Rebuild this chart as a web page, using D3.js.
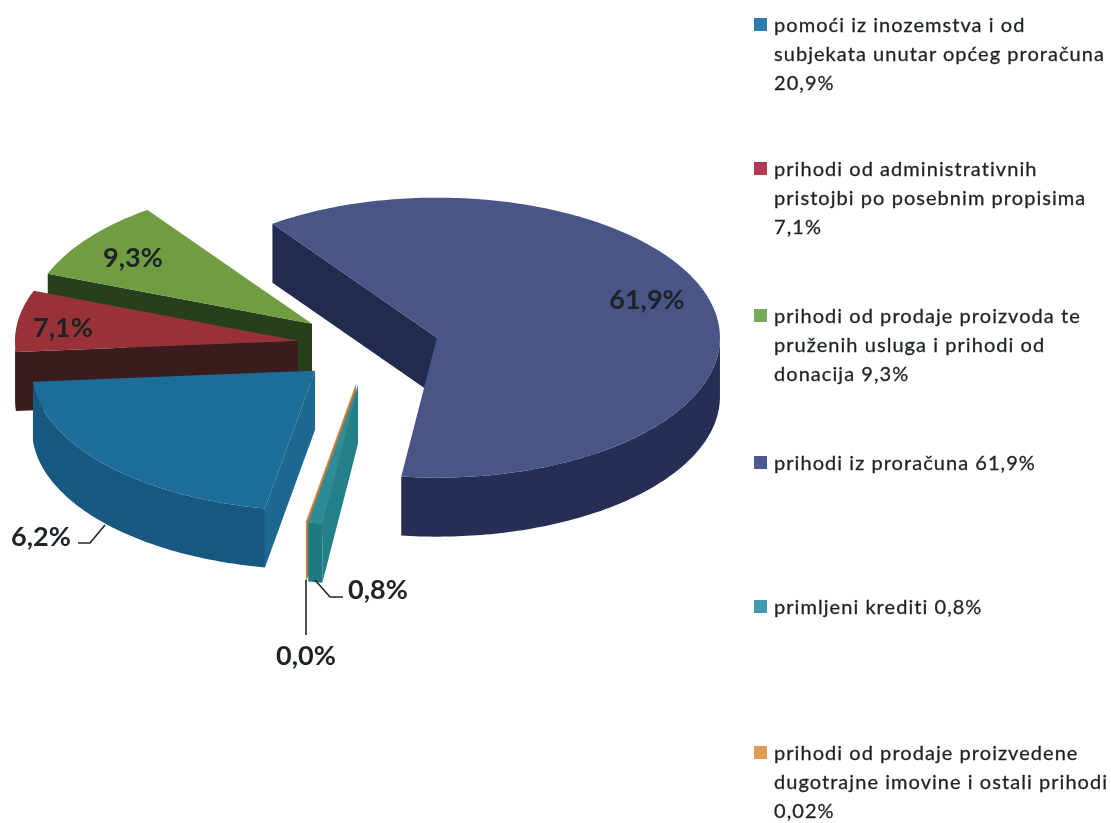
<!DOCTYPE html>
<html>
<head>
  <meta charset="utf-8">
  <script src="https://cdnjs.cloudflare.com/ajax/libs/d3/7.8.5/d3.min.js"></script>
  <style>
    html, body { margin: 0; padding: 0; background: #fff; }
    svg { display: block; }
    text { font-family: Lato, "Open Sans", sans-serif; fill: #1d2326; }
    .legend text { font-size: 20px; letter-spacing: 1.05px; stroke: #1d2326; stroke-width: 0.3px; }
    .label { font-size: 27px; font-weight: 700; }
  </style>
</head>
<body>
<svg id="chart" width="1111" height="823"></svg>
<script>
  // slices in the order of the legend, clockwise
  var values = [20.9, 7.1, 9.3, 61.9, 0.8, 0.02];
  var sliceLabels = ["6,2%", "7,1%", "9,3%", "61,9%", "0,8%", "0,0%"];   // the source prints 6,2% on the 20,9% slice
  var legendLines = [
    ["pomoći iz inozemstva i od", "subjekata unutar općeg proračuna", "20,9%"],
    ["prihodi od administrativnih", "pristojbi po posebnim propisima", "7,1%"],
    ["prihodi od prodaje proizvoda te", "pruženih usluga i prihodi od", "donacija 9,3%"],
    ["prihodi iz proračuna 61,9%"],
    ["primljeni krediti 0,8%"],
    ["prihodi od prodaje proizvedene", "dugotrajne imovine i ostali prihodi", "0,02%"]
  ];
  var explode = [0.262, 0.257, 0.259, 0.244, 0.28, 0.28];

  var topColors  = ["#1f6d98", "#993239", "#6f9c42", "#4a5487", "#2a8d98", "#c9924f"];
  var sideColors = ["#14587f", "#3a1a1f", "#26401f", "#262f54", "#1d7a82", "#b9773a"];
  var cutColors  = ["#1c6790", "#3a1a1f", "#26401f", "#232c4f", "#22808a", "#b9773a"];
  var legendColors = ["#2f7cab", "#b23a52", "#77ab5c", "#4d5a94", "#3f9cad", "#e09a58"];

  var cx = 370, cy = 346, rx = 283, ry = 140, depth = 59;
  var svg = d3.select("#chart");

  // the scan is soft, so everything gets a small blur
  svg.append("defs").append("filter")
    .attr("id", "soft")
    .append("feGaussianBlur")
    .attr("stdDeviation", 0.55);

  var root = svg.append("g").attr("filter", "url(#soft)");

  var pie = d3.pie().sort(null)
    .startAngle(-169.8 * Math.PI / 180)
    .endAngle(190.2 * Math.PI / 180);

  var line = d3.line();

  var slices = pie(values).map(function(d, i) {
    var mid = (d.startAngle + d.endAngle) / 2;
    return {
      i: i,
      a0: d.startAngle,
      a1: d.endAngle,
      x: cx + explode[i] * rx * Math.sin(mid),
      y: cy - explode[i] * ry * Math.cos(mid)
    };
  });

  function rim(s, a, dz) {
    return [s.x + rx * Math.sin(a), s.y - ry * Math.cos(a) + (dz || 0)];
  }

  function arcPoints(s, a0, a1, dz) {
    var n = Math.max(2, Math.ceil((a1 - a0) * 60));
    return d3.range(n + 1).map(function(k) {
      return rim(s, a0 + (a1 - a0) * k / n, dz);
    });
  }

  // the part of the rim that faces the viewer
  function frontRange(s) {
    if (s.a0 < -Math.PI / 2) return [s.a0, Math.min(s.a1, -Math.PI / 2)];
    return [Math.max(s.a0, Math.PI / 2), s.a1];
  }

  // back to front
  var order = slices.slice().sort(function(a, b) { return a.y - b.y; });

  var g = root.append("g").selectAll("g")
    .data(order)
    .enter()
    .append("g");

  g.each(function(s) {
    var el = d3.select(this);
    var apex = [s.x, s.y];
    var apexLow = [s.x, s.y + depth];

    // cut face on the start side
    if (Math.sin(s.a0) < 0) {
      el.append("path")
        .attr("d", line([apex, rim(s, s.a0), rim(s, s.a0, depth), apexLow]) + "Z")
        .attr("fill", cutColors[s.i]);
    }
    // cut face on the end side
    if (Math.sin(s.a1) > 0) {
      el.append("path")
        .attr("d", line([apex, rim(s, s.a1), rim(s, s.a1, depth), apexLow]) + "Z")
        .attr("fill", cutColors[s.i]);
    }
    // outer wall
    var r = frontRange(s);
    if (r[1] > r[0]) {
      var upper = arcPoints(s, r[0], r[1], 0);
      var lower = arcPoints(s, r[0], r[1], depth).reverse();
      el.append("path")
        .attr("d", line(upper.concat(lower)) + "Z")
        .attr("fill", sideColors[s.i]);
    }
    // top
    el.append("path")
      .attr("d", line([apex].concat(arcPoints(s, s.a0, s.a1, 0))) + "Z")
      .attr("fill", topColors[s.i])
      .attr("stroke", s.i === 5 ? topColors[s.i] : "none")
      .attr("stroke-width", 0.5);
  });

  // label positions
  var labelPos = [[41, 535], [63, 326], [133, 256], [647, 298], [378, 588], [306, 654]];
  root.append("g").selectAll("text")
    .data(sliceLabels)
    .enter()
    .append("text")
    .attr("class", "label")
    .attr("x", function(d, i) { return labelPos[i][0]; })
    .attr("y", function(d, i) { return labelPos[i][1]; })
    .attr("text-anchor", "middle")
    .attr("dominant-baseline", "central")
    .text(function(d) { return d; });

  var leaders = [
    [[78, 543], [90, 543], [105, 525]],
    [[343, 597], [330, 597], [315, 580]],
    [[306, 580], [306, 635]]
  ];
  root.append("g").selectAll("path")
    .data(leaders)
    .enter()
    .append("path")
    .attr("d", line)
    .attr("fill", "none")
    .attr("stroke", "#20262a")
    .attr("stroke-width", 1.6);

  // legend
  var legendTop = [32, 176, 323, 470, 614, 760];
  var lineHeight = 29.2;
  var legend = root.append("g").attr("class", "legend").selectAll("g")
    .data(legendLines)
    .enter()
    .append("g")
    .attr("transform", function(d, i) { return "translate(754," + legendTop[i] + ")"; });

  legend.append("rect")
    .attr("x", 0)
    .attr("y", -14)
    .attr("width", 13)
    .attr("height", 13)
    .attr("fill", function(d, i) { return legendColors[i]; });

  legend.selectAll("text")
    .data(function(d) { return d; })
    .enter()
    .append("text")
    .attr("x", 20)
    .attr("y", function(d, i) { return i * lineHeight; })
    .text(function(d) { return d; });
</script>
</body>
</html>
